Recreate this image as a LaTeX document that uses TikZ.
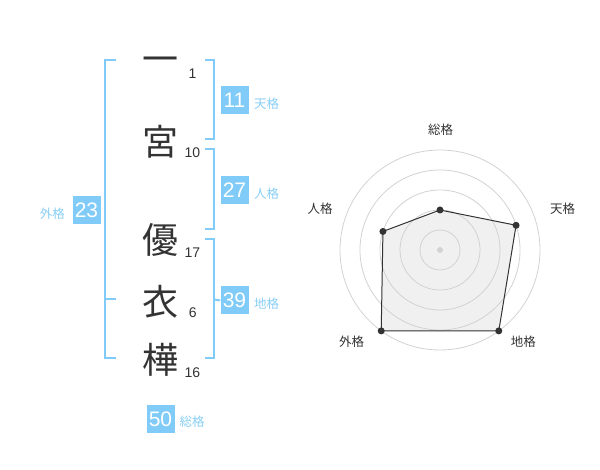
\documentclass[tikz,border=0pt]{standalone}
\usepackage{fontspec}
\setmainfont{Liberation Sans}
\newfontfamily\cjk{Noto Sans CJK JP}
\definecolor{bl}{HTML}{80CBF8}
\definecolor{bllabel}{HTML}{88CEF6}
\definecolor{ink}{HTML}{333333}
\definecolor{ring}{HTML}{D2D2D2}
\definecolor{polyfill}{HTML}{F0F0F0}
\tikzset{
  namechar/.style={anchor=base, inner sep=0pt, text=ink, font=\cjk\fontsize{36}{36}\selectfont},
  strokenum/.style={anchor=center, inner sep=0pt, text=ink, font=\fontsize{14}{14}\selectfont},
  bracket/.style={draw=bl, line width=2pt},
  scorebox/.style={fill=bl, text=white, minimum width=28pt, minimum height=28pt, inner sep=0pt, font=\fontsize{21}{21}\selectfont},
  scorelabel/.style={text=bllabel, inner sep=0pt, font=\cjk\fontsize{12.5}{12.5}\selectfont},
  radarlabel/.style={text=ink, inner sep=0pt, font=\cjk\fontsize{12.5}{12.5}\selectfont},
  ringline/.style={draw=ring, line width=0.8pt},
  dot/.style={circle, fill=ink, minimum size=7pt, inner sep=0pt}
}
\begin{document}
\begin{tikzpicture}[x=1pt,y=-1pt]
\useasboundingbox (0,0) rectangle (600,470);
% name characters
\node[namechar] (c1) at (160,72.4) {一};
\node[namechar] (c2) at (160,155.4) {宮};
\node[namechar] (c3) at (160,253.7) {優};
\node[namechar] (c4) at (160,315.7) {衣};
\node[namechar] (c5) at (160,373.7) {樺};
% stroke numbers
\node[strokenum] (n1) at (192.5,73.3) {1};
\node[strokenum] (n2) at (192.3,152.7) {10};
\node[strokenum] (n3) at (192.3,252.7) {17};
\node[strokenum] (n4) at (192.7,312.7) {6};
\node[strokenum] (n5) at (192.3,372.7) {16};
% left bracket (gaikaku)
\draw[bracket] (116,60) -- (105,60) -- (105,358.5) -- (116,358.5);
\draw[bracket] (105,299.5) -- (116,299.5);
\node[scorebox] (b23) at (86.5,210) {23};
\node[scorelabel, anchor=east] (l23) at (65,214) {外格};
% tenkaku
\draw[bracket] (205,60) -- (214.3,60) -- (214.3,139.3) -- (205,139.3);
\node[scorebox] (b11) at (234.5,100.5) {11};
\node[scorelabel, anchor=west] (l11) at (254,104) {天格};
% jinkaku
\draw[bracket] (205,149.3) -- (214.3,149.3) -- (214.3,229.3) -- (205,229.3);
\node[scorebox] (b27) at (234.5,190.5) {27};
\node[scorelabel, anchor=west] (l27) at (254,194) {人格};
% chikaku
\draw[bracket] (205,239.3) -- (214.3,239.3) -- (214.3,358.5) -- (205,358.5);
\node[scorebox] (b39) at (234.5,300.5) {39};
\draw[bracket] (214.3,299.5) -- (b39.west);
\node[scorelabel, anchor=west] (l39) at (254,304) {地格};
% soukaku
\node[scorebox] (b50) at (160.5,418.8) {50};
\node[scorelabel, anchor=west] (l50) at (179.3,422) {総格};
% radar chart
\coordinate (rc) at (440,250);
\coordinate (p1) at (440,210);
\coordinate (p2) at (516.08,225.28);
\coordinate (p3) at (498.78,330.90);
\coordinate (p4) at (381.22,330.90);
\coordinate (p5) at (382.94,231.46);
\fill[polyfill] (p1) -- (p2) -- (p3) -- (p4) -- (p5) -- cycle;
\foreach \r in {20,40,60,80,100} \draw[ringline] (rc) circle (\r);
\draw[ink, line width=1pt] (p1) -- (p2) -- (p3) -- (p4) -- (p5) -- cycle;
\node[circle, fill=ring, minimum size=6pt, inner sep=0pt] (rcd) at (rc) {};
\foreach \p in {p1,p2,p3,p4,p5} \node[dot] (d\p) at (\p) {};
\node[radarlabel] (r1) at (440.7,130) {総格};
\node[radarlabel] (r2) at (562.7,208.3) {天格};
\node[radarlabel] (r3) at (523.3,341.7) {地格};
\node[radarlabel] (r4) at (351.7,341.7) {外格};
\node[radarlabel] (r5) at (320,209) {人格};
\end{tikzpicture}
\end{document}
